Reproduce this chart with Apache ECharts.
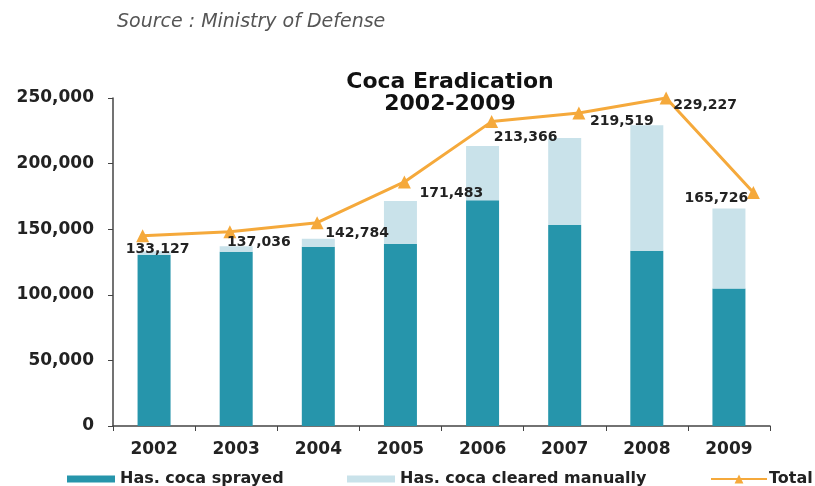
<!DOCTYPE html>
<html><head><meta charset="utf-8">
<script src="https://cdn.jsdelivr.net/npm/echarts@6/dist/echarts.min.js"></script>
<style>html,body{margin:0;padding:0;background:#fff}#c{width:815px;height:486px}</style>
</head><body><div id="c"></div>
<script>
const years = ['2002','2003','2004','2005','2006','2007','2008','2009'];
const sprayed = [130364, 132817, 136551, 138775, 172025, 153134, 133496, 104772];
const manual = [2763, 4219, 6233, 32708, 41341, 66385, 95731, 60954];
const totalLine = [145000, 148000, 155000, 186000, 232000, 238500, 250000, 178000];
const totalLabels = ['133,127','137,036','142,784','171,483','213,366','219,519','229,227','165,726'];
const yTicks = [0, 50000, 100000, 150000, 200000, 250000];

// label offsets (style)
const labelOffsets = [[15,14],[29,11],[40,11],[47,11],[34,16],[43,8],[39,7],[-37,6]];

const DARK = '#2695ab', LIGHT = '#c9e2ea', ORANGE = '#f5a93b';
const FONT = 'DejaVu Sans';

const chart = echarts.init(document.getElementById('c'), null, {renderer:'canvas'});
const lineData = totalLine.map((v,i)=>({
  value: v,
  label: {offset: labelOffsets[i], formatter: totalLabels[i]}
}));
const legendText = {fontFamily:FONT, fontSize:16, fontWeight:'bold', color:'#222'};
chart.setOption({
  animation: false,
  textStyle: {fontFamily: FONT},
  graphic: [
    {type:'text', left:117, top:13, style:{text:'Source : Ministry of Defense', font:'italic 19px DejaVu Sans', fill:'#555'}}
  ],
  title: {
    text: 'Coca Eradication\n2002-2009',
    left: 445, top: 66, textAlign: 'center',
    textStyle: {fontFamily: FONT, fontWeight:'bold', fontSize: 22, lineHeight: 22, color:'#111', align:'center'}
  },
  legend: [
    {data:[{name:'Has. coca sprayed', icon:'rect'}], left:62, top:466, itemWidth:48, itemHeight:7, itemGap:0,
     textStyle:Object.assign({padding:[0,0,0,0]}, legendText)},
    {data:[{name:'Has. coca cleared manually', icon:'rect'}], left:342, top:466, itemWidth:48, itemHeight:7,
     textStyle:Object.assign({padding:[0,0,0,0]}, legendText)},
    {data:['Total'], left:705, top:466, itemWidth:56, itemHeight:11,
     textStyle:Object.assign({padding:[0,0,0,-3]}, legendText)}
  ],
  grid: [
    {left:113, right:45, top:98, bottom:60, containLabel:false},
    {left:99, right:18, top:98, bottom:60, containLabel:false}
  ],
  xAxis: [
    {type:'category', gridIndex:0, data: years,
     axisLine:{lineStyle:{color:'#444', width:1.5}},
     axisTick:{show:true, length:5, lineStyle:{color:'#444'}},
     axisLabel:{fontFamily:FONT, fontWeight:'bold', fontSize:17, color:'#222', margin:15}},
    {type:'category', gridIndex:1, data: years, show:false}
  ],
  yAxis: [
    {type:'value', gridIndex:0, min:0, max:250000, interval:50000,
     axisLine:{show:true, lineStyle:{color:'#444', width:1.5}},
     axisTick:{show:true, length:5, lineStyle:{color:'#444'}},
     splitLine:{show:false},
     axisLabel:{fontFamily:FONT, fontWeight:'bold', fontSize:17, color:'#222', margin:19,
       formatter: v => yTicks.includes(v) ? v.toLocaleString('en-US') : ''}},
    {type:'value', gridIndex:1, min:0, max:250000, show:false, splitLine:{show:false}}
  ],
  series: [
    {name:'Has. coca sprayed', type:'bar', stack:'a', data: sprayed, barWidth:33,
     xAxisIndex:0, yAxisIndex:0, itemStyle:{color:DARK}},
    {name:'Has. coca cleared manually', type:'bar', stack:'a', data: manual, barWidth:33,
     xAxisIndex:0, yAxisIndex:0, itemStyle:{color:LIGHT}},
    {name:'Total', type:'line', data: lineData, xAxisIndex:1, yAxisIndex:1,
     symbol:'triangle', symbolSize:13,
     lineStyle:{color:ORANGE, width:3}, itemStyle:{color:ORANGE},
     label:{show:true, position:'inside', fontFamily:FONT, fontWeight:'bold', fontSize:14, color:'#222'},
     z: 5}
  ]
});
</script></body></html>
